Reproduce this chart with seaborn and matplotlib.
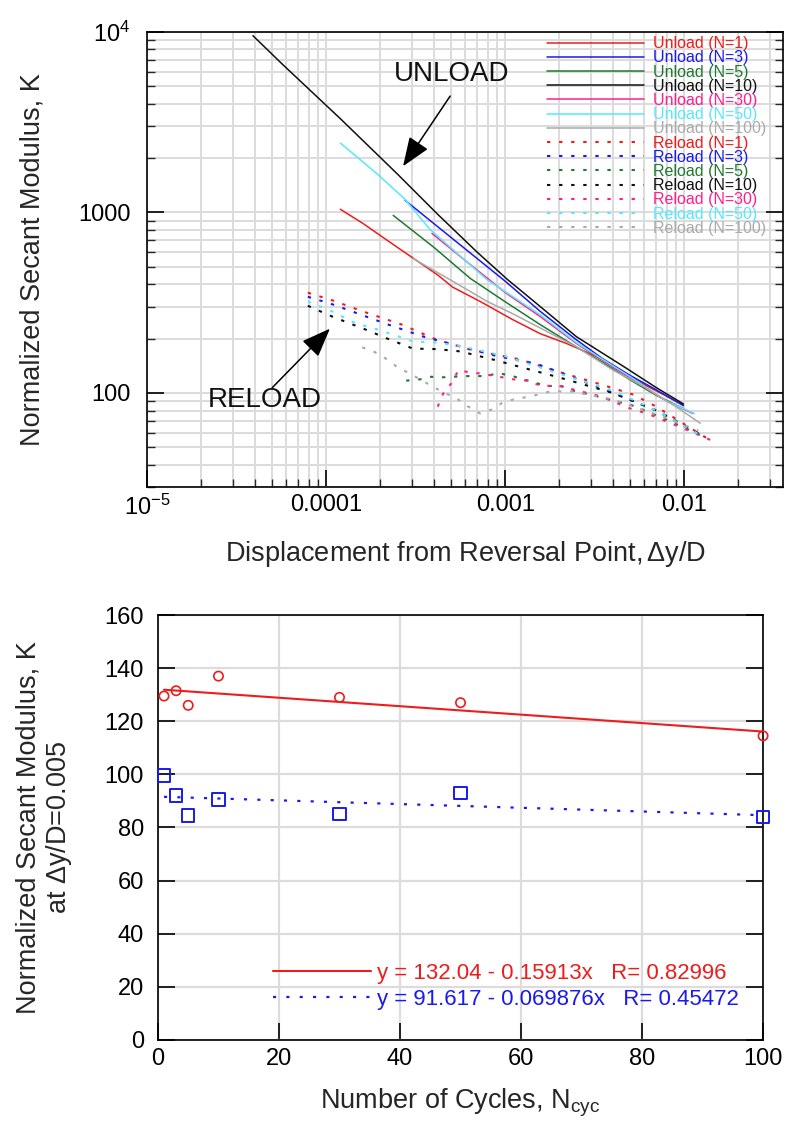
import numpy as np
import matplotlib
matplotlib.use("Agg")
import matplotlib.pyplot as plt
import seaborn as sns
from matplotlib.ticker import FixedLocator, FixedFormatter, LogLocator, NullFormatter, MultipleLocator

# ---------------- data: top panel (secant modulus vs displacement) ----------------
unload_n1_x = [1.2e-4, 1.6e-4, 2.5e-4, 4.2e-4, 5.1e-4, 7.3e-4, 1.1e-3, 1.57e-3, 2.2e-3, 3.3e-3, 5.6e-3, 9.9e-3]
unload_n1_k = [1040, 870, 640, 450, 385, 320, 255, 213, 188, 158, 115, 86]
unload_n3_x = [2.76e-4, 4e-4, 6e-4, 1e-3, 1.57e-3, 2.5e-3, 3.5e-3, 5e-3, 7e-3, 9.9e-3]
unload_n3_k = [1166, 866, 626, 416, 283, 197, 155, 125, 104, 85]
unload_n5_x = [2.37e-4, 4e-4, 6.4e-4, 1e-3, 1.57e-3, 2.5e-3, 3.5e-3, 5e-3, 7e-3, 9.9e-3]
unload_n5_k = [962, 640, 430, 320, 239, 180, 148, 118, 97, 82]
unload_n10_x = [3.9e-5, 5.7e-5, 1.2e-4, 2.5e-4, 4.2e-4, 7e-4, 1.03e-3, 1.57e-3, 2.5e-3, 4.6e-3, 7e-3, 9.9e-3]
unload_n10_k = [9500, 6600, 3300, 1630, 975, 600, 425, 301, 205, 140, 107, 87]
unload_n30_x = [3.9e-4, 6e-4, 1e-3, 1.57e-3, 2.5e-3, 5e-3, 8e-3, 1.12e-2]
unload_n30_k = [765, 540, 360, 265, 188, 121, 90, 77]
unload_n50_x = [1.2e-4, 1.93e-4, 2.76e-4, 3.8e-4, 7.9e-4, 1.57e-3, 2.5e-3, 5e-3, 8e-3, 1.14e-2]
unload_n50_k = [2420, 1630, 1180, 805, 425, 271, 190, 123, 90, 77]
unload_n100_x = [3.06e-4, 5e-4, 8e-4, 1.1e-3, 1.57e-3, 2.5e-3, 4e-3, 6e-3, 9e-3, 1.23e-2]
unload_n100_k = [555, 420, 320, 275, 229, 180, 134, 108, 84, 68]

reload_n1_x = [7.9e-5, 1.08e-4, 1.67e-4, 2.65e-4, 4.15e-4, 6.5e-4, 1.19e-3, 2.1e-3, 3.7e-3, 5.2e-3, 7e-3, 1.17e-2, 1.39e-2]
reload_n1_k = [359, 326, 279, 239, 197, 173, 154, 129, 109, 98, 84, 61, 55]
reload_n3_x = [7.9e-5, 1.08e-4, 1.45e-4, 2.2e-4, 3.5e-4, 5.5e-4, 9e-4, 1.5e-3, 2.5e-3, 4e-3, 7e-3, 1.25e-2]
reload_n3_k = [341, 310, 279, 240, 205, 182, 160, 145, 120, 100, 80, 58]
reload_n5_x = [2.8e-4, 3.35e-4, 3.8e-4, 4.4e-4, 6e-4, 7.9e-4, 9.1e-4, 1.1e-3, 1.43e-3, 1.71e-3, 2.03e-3, 2.4e-3, 3e-3, 5.2e-3, 8e-3, 1.31e-2]
reload_n5_k = [117, 119, 123, 122, 124, 124, 129, 124, 115, 109, 110, 103, 98, 85, 71, 57]
reload_n10_x = [7.9e-5, 1.08e-4, 1.67e-4, 2.2e-4, 3.06e-4, 4.15e-4, 5.6e-4, 8.6e-4, 1.16e-3, 2e-3, 4e-3, 7e-3, 1.2e-2]
reload_n10_k = [304, 265, 224, 200, 176, 175, 170, 153, 141, 122, 100, 80, 60]
reload_n30_x = [4.2e-4, 4.5e-4, 5e-4, 5.5e-4, 6.3e-4, 7.4e-4, 9.7e-4, 1.11e-3, 1.32e-3, 1.57e-3, 2.03e-3, 3.4e-3, 5e-3, 6.2e-3, 1.1e-2, 1.46e-2]
reload_n30_k = [84, 99, 113, 134, 130, 128, 122, 119, 117, 110, 109, 96, 82, 77, 61, 54]
reload_n50_x = [7.9e-5, 1.08e-4, 1.45e-4, 1.96e-4, 3.07e-4, 4.15e-4, 5.6e-4, 7.4e-4, 1.02e-3, 2e-3, 4e-3, 7e-3, 1.25e-2]
reload_n50_k = [321, 283, 244, 224, 193, 190, 182, 171, 159, 128, 103, 80, 58]
reload_n100_x = [1.59e-4, 1.88e-4, 2.2e-4, 2.5e-4, 2.85e-4, 3.4e-4, 3.9e-4, 4.5e-4, 5.3e-4, 6.1e-4, 7.25e-4, 8.4e-4,
                 9.6e-4, 1.11e-3, 1.32e-3, 1.53e-3, 1.78e-3, 2.35e-3, 4e-3, 7e-3, 1.2e-2]
reload_n100_k = [179, 168, 153, 139, 130, 118, 109, 101, 94, 85, 77, 81, 88, 92, 95, 98, 102, 102, 92, 76, 62]

cycle_labels = ["N=1", "N=3", "N=5", "N=10", "N=30", "N=50", "N=100"]
series_colors = ["#ee1c1c", "#1a1aee", "#1e7a2e", "#111111", "#ff1f8a", "#55e8ff", "#aaaaaa"]

unload_x = [unload_n1_x, unload_n3_x, unload_n5_x, unload_n10_x, unload_n30_x, unload_n50_x, unload_n100_x]
unload_k = [unload_n1_k, unload_n3_k, unload_n5_k, unload_n10_k, unload_n30_k, unload_n50_k, unload_n100_k]
reload_x = [reload_n1_x, reload_n3_x, reload_n5_x, reload_n10_x, reload_n30_x, reload_n50_x, reload_n100_x]
reload_k = [reload_n1_k, reload_n3_k, reload_n5_k, reload_n10_k, reload_n30_k, reload_n50_k, reload_n100_k]

top_xticks = [1e-5, 1e-4, 1e-3, 1e-2]
top_xticklabels = ["$10^{\\mathregular{-5}}$", "0.0001", "0.001", "0.01"]
top_yticks = [100, 1000, 1e4]
top_yticklabels = ["100", "1000", "$10^{4}$"]

# ---------------- data: bottom panel (K at dy/D=0.005 vs cycles) ----------------
n_cycles = [1, 3, 5, 10, 30, 50, 100]
unload_k_005 = [129.5, 131.5, 126.0, 137.0, 129.0, 127.0, 114.5]
reload_k_005 = [99.5, 92.0, 84.5, 90.5, 85.0, 93.0, 84.0]
unload_fit = [132.04, -0.15913, 0.82996]
reload_fit = [91.617, -0.069876, 0.45472]

# ---------------- style ----------------
sns.set_theme(style="white")
plt.rcParams['font.family'] = ['Liberation Sans', 'DejaVu Sans']
plt.rcParams['mathtext.fontset'] = 'custom'
plt.rcParams['mathtext.rm'] = 'Liberation Sans'
plt.rcParams['mathtext.it'] = 'Liberation Sans:italic'
plt.rcParams['mathtext.bf'] = 'Liberation Sans:bold'
plt.rcParams['axes.edgecolor'] = 'black'
plt.rcParams['axes.linewidth'] = 1.2

fig = plt.figure(figsize=(7.91, 11.31), dpi=100)
ax1 = fig.add_axes([0.186, 0.569, 0.804, 0.403])
ax2 = fig.add_axes([0.1997, 0.0805, 0.765, 0.3757])

GRID = '#dcdcdc'

# ---------------- top panel ----------------
ax1.set_xscale('log')
ax1.set_yscale('log')
for xs, ks, c, lab in zip(unload_x, unload_k, series_colors, cycle_labels):
    sns.lineplot(x=xs, y=ks, ax=ax1, color=c, lw=1.1, sort=False, estimator=None,
                 label=f"Unload ({lab})")
for xs, ks, c, lab in zip(reload_x, reload_k, series_colors, cycle_labels):
    sns.lineplot(x=xs, y=ks, ax=ax1, color=c, lw=1.5, sort=False, estimator=None,
                 linestyle=(0, (1.6, 4.2)), label=f"Reload ({lab})")

ax1.set_xlim(1e-5, 0.0357)
ax1.set_ylim(30, 1e4)
ax1.xaxis.set_major_locator(FixedLocator(top_xticks))
ax1.xaxis.set_major_formatter(FixedFormatter(top_xticklabels))
ax1.xaxis.set_minor_locator(LogLocator(base=10, subs=np.arange(2, 10)))
ax1.xaxis.set_minor_formatter(NullFormatter())
ax1.yaxis.set_major_locator(FixedLocator(top_yticks))
ax1.yaxis.set_major_formatter(FixedFormatter(top_yticklabels))
ax1.yaxis.set_minor_locator(LogLocator(base=10, subs=np.arange(2, 10)))
ax1.yaxis.set_minor_formatter(NullFormatter())
ax1.grid(True, which='both', color=GRID, lw=1.4)
ax1.set_axisbelow(True)
ax1.tick_params(which='major', direction='in', length=12, width=1.2, left=True, bottom=True,
                right=True, top=False, labelsize=17, colors='black')
ax1.tick_params(which='minor', direction='in', length=6, width=1.0, left=True, bottom=True,
                right=True, top=False)
ax1.tick_params(axis='y', which='major', pad=12)
ax1.tick_params(axis='x', which='major', pad=5)
ax1.set_xlabel("Displacement from Reversal Point,$\\,\\Delta$y/D", fontsize=19.5, labelpad=14)
ax1.set_ylabel("Normalized Secant Modulus, K", fontsize=19.5)
ax1.yaxis.set_label_coords(-0.16, 0.5)

leg1 = ax1.legend(loc='upper left', bbox_to_anchor=(0.628, 0.99), frameon=False, fontsize=11.5,
                  labelspacing=-0.05, handlelength=6.1, handletextpad=0.55, borderpad=0,
                  borderaxespad=0, labelcolor='linecolor')

ax1.text(5.0e-4, 5840, "UNLOAD", fontsize=20, ha='center', va='center', color='#111111')
ax1.annotate("", xy=(2.69e-4, 1800), xytext=(4.93e-4, 4400),
             arrowprops=dict(arrowstyle='-|>,head_length=0.9,head_width=0.35', color='black',
                             lw=1.1, mutation_scale=20, shrinkA=0, shrinkB=0))
ax1.text(4.56e-5, 92, "RELOAD", fontsize=20, ha='center', va='center', color='#111111')
ax1.annotate("", xy=(1.05e-4, 227), xytext=(5.0e-5, 107),
             arrowprops=dict(arrowstyle='-|>,head_length=0.9,head_width=0.35', color='black',
                             lw=1.1, mutation_scale=20, shrinkA=0, shrinkB=0))

# ---------------- bottom panel ----------------
fit_x = np.linspace(1, 100, 60)
sns.lineplot(x=fit_x, y=unload_fit[0] + unload_fit[1] * fit_x, ax=ax2, color='#ee1c1c', lw=1.5,
             sort=False, estimator=None,
             label=f"y = {unload_fit[0]:.2f} - {abs(unload_fit[1]):.5f}x   R= {unload_fit[2]:.5f}")
sns.lineplot(x=fit_x, y=reload_fit[0] + reload_fit[1] * fit_x, ax=ax2, color='#1a1aee', lw=1.6,
             sort=False, estimator=None, linestyle=(0, (1.4, 4.6)),
             label=f"y = {reload_fit[0]:.3f} - {abs(reload_fit[1]):.6f}x   R= {reload_fit[2]:.5f}")
sns.scatterplot(x=n_cycles, y=unload_k_005, ax=ax2, marker='o', s=45, color='#ee1c1c',
                facecolor='none', edgecolor='#ee1c1c', linewidth=1.2, zorder=5, clip_on=False)
sns.scatterplot(x=n_cycles, y=reload_k_005, ax=ax2, marker='s', s=80, color='#1a1aee',
                facecolor='none', edgecolor='#1a1aee', linewidth=1.4, zorder=5, clip_on=False)

ax2.set_xlim(0, 100)
ax2.set_ylim(0, 160)
ax2.xaxis.set_major_locator(MultipleLocator(20))
ax2.yaxis.set_major_locator(MultipleLocator(20))
ax2.grid(True, which='major', color=GRID, lw=1.6)
ax2.set_axisbelow(True)
ax2.tick_params(which='major', direction='in', length=12, width=1.2, left=True, bottom=True,
                right=True, top=False, labelsize=17, colors='black')
ax2.tick_params(axis='y', pad=10)
ax2.tick_params(axis='x', pad=6)
ax2.set_xlabel("Number of Cycles, N$_{\\mathregular{cyc}}$", fontsize=19.5, labelpad=12)
ax2.set_ylabel("Normalized Secant Modulus, K\nat $\\Delta$y/D=0.005", fontsize=19.5, linespacing=1.15)
ax2.yaxis.set_label_coords(-0.138, 0.5)

leg2 = ax2.legend(loc='lower left', bbox_to_anchor=(0.19, 0.07), frameon=False, fontsize=16,
                  labelspacing=0.25, handlelength=4.4, handletextpad=0.3, borderpad=0,
                  borderaxespad=0, labelcolor='linecolor')

fig.savefig("out.png", dpi=100)
